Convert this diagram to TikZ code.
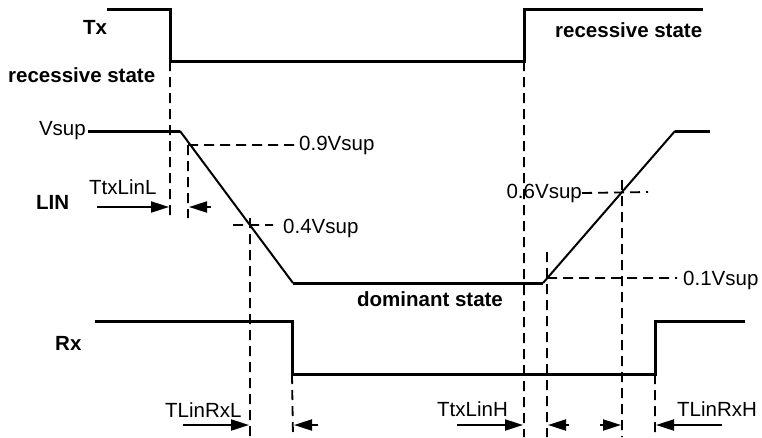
\documentclass[tikz,border=0pt]{standalone}
\usepackage{fontspec}
\setmainfont{Liberation Sans}
\usetikzlibrary{arrows.meta}
\tikzset{
	levelstyle/.style={line width=3pt},
	slopestyle/.style={line width=2pt},
	guidestyle/.style={line width=1.8pt,dash pattern=on 10pt off 6pt},
	timestyle/.style={line width=2pt,-{Triangle[length=18pt,width=11pt]}},
	boldstyle/.style={font=\bfseries,inner sep=0},
	plainstyle/.style={inner sep=0}
}
\begin{document}
\begin{tikzpicture}[x=1pt,y=-1pt]
	\fontsize{20.5}{22}\selectfont
	\useasboundingbox (0,0) rectangle (762,437);
	% Tx
	\coordinate (ta) at (107,9);
	\coordinate (tb) at (170,9);
	\coordinate (tc) at (170,61);
	\coordinate (td) at (524,61);
	\coordinate (te) at (524,9);
	\coordinate (tf) at (703,9);
	\draw[levelstyle] (ta)--(tb)--(tc)--(td)--(te)--(tf);
	% LIN
	\coordinate (la) at (88,131);
	\coordinate (lb) at (180,131);
	\coordinate (lc) at (293,283);
	\coordinate (ld) at (543,283);
	\coordinate (le) at (675,131);
	\coordinate (lf) at (710,131);
	\draw[levelstyle] (la)--(lb) (lc)--(ld) (le)--(lf);
	\draw[slopestyle] (lb)--(lc) (ld)--(le);
	% Rx
	\coordinate (ra) at (95,321);
	\coordinate (rb) at (292,321);
	\coordinate (rc) at (292,374);
	\coordinate (rd) at (655,374);
	\coordinate (re) at (655,321);
	\coordinate (rf) at (745,321);
	\draw[levelstyle] (ra)--(rb)--(rc)--(rd)--(re)--(rf);
	% guides
	\coordinate (ga) at (170,218);
	\coordinate (gb) at (188,145);
	\coordinate (gbb) at (188,218);
	\coordinate (gc) at (250,218);
	\coordinate (gcc) at (250,437);
	\coordinate (gd) at (293,437);
	\coordinate (ge) at (524,437);
	\coordinate (gf) at (547,252);
	\coordinate (gff) at (547,437);
	\coordinate (gg) at (622,180);
	\coordinate (ggg) at (622,437);
	\coordinate (gh) at (655,437);
	\draw[guidestyle] (tc)--(ga) (gb)--(gbb) (gc)--(gcc) (rc)--(gd)
	(td)--(ge) (gf)--(gff) (gg)--(ggg) (rd)--(gh);
	% levels
	\node[plainstyle,anchor=west] (n9) at (299,145) {0.9Vsup};
	\node[plainstyle,anchor=west] (n4) at (283,228) {0.4Vsup};
	\node[plainstyle,anchor=east] (n6) at (582,193) {0.6Vsup};
	\node[plainstyle,anchor=west] (n1) at (683,280) {0.1Vsup};
	\coordinate (ha) at (233,225);
	\coordinate (hb) at (273,225);
	\coordinate (hc) at (648,192);
	\coordinate (hd) at (547,278);
	\coordinate (he) at (677,278);
	\draw[guidestyle] (gb)--(n9.west) (ha)--(hb) (n6.east)--(hc) (hd)--(he);
	% delays
	\coordinate (aa) at (97,207);
	\coordinate (ab) at (169,207);
	\coordinate (ac) at (211,207);
	\coordinate (ad) at (189,207);
	\coordinate (ba) at (183,425);
	\coordinate (bb) at (249,425);
	\coordinate (bc) at (318,425);
	\coordinate (bd) at (294,425);
	\coordinate (ca) at (457,425);
	\coordinate (cb) at (523,425);
	\coordinate (cc) at (569,425);
	\coordinate (cd) at (548,425);
	\coordinate (ce) at (600,425);
	\coordinate (cf) at (621,425);
	\coordinate (cg) at (722,425);
	\coordinate (ch) at (656,425);
	\draw[timestyle] (aa)--(ab);
	\draw[timestyle] (ac)--(ad);
	\draw[timestyle] (ba)--(bb);
	\draw[timestyle] (bc)--(bd);
	\draw[timestyle] (ca)--(cb);
	\draw[timestyle] (cc)--(cd);
	\draw[timestyle] (ce)--(cf);
	\draw[timestyle] (cg)--(ch);
	% labels
	\node[boldstyle] (txl) at (95,27) {Tx};
	\node[boldstyle,anchor=west] (rs1) at (8,75) {recessive state};
	\node[boldstyle,anchor=west] (rs2) at (555,30) {recessive state};
	\node[plainstyle,anchor=east] (vs) at (86,131) {Vsup};
	\node[boldstyle,anchor=west] (lin) at (36,202) {LIN};
	\node[plainstyle,anchor=west] (tl) at (89,187) {TtxLinL};
	\node[boldstyle] (dom) at (430,299) {dominant state};
	\node[boldstyle,anchor=west] (rxl) at (55,343) {Rx};
	\node[plainstyle,anchor=west] (rl) at (165,410) {TLinRxL};
	\node[plainstyle,anchor=west] (th) at (437,409) {TtxLinH};
	\node[plainstyle,anchor=west] (rh) at (677,409) {TLinRxH};
\end{tikzpicture}
\end{document}
